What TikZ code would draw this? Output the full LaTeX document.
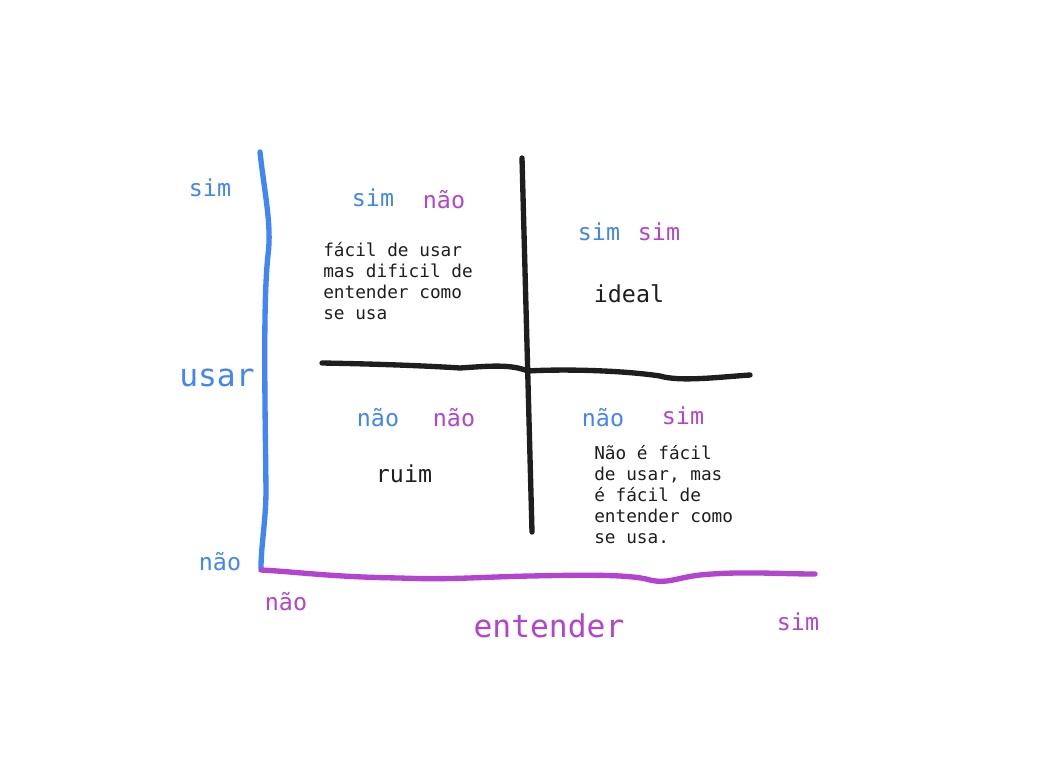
\documentclass[tikz,border=0pt]{standalone}
\usepackage{fontspec}
\setmainfont{DejaVu Sans Mono}
\usetikzlibrary{positioning}
\definecolor{azul}{HTML}{4285F4}
\definecolor{roxo}{HTML}{B244D0}
\definecolor{traco}{HTML}{1E1E1E}
\tikzset{
  eixo/.style={line width=4pt,line cap=round,line join=round},
  rot/.style={inner sep=0pt,font=\fontsize{17.5}{21}\selectfont},
  grande/.style={inner sep=0pt,font=\fontsize{23.5}{28}\selectfont},
  bloco/.style={inner sep=0pt,anchor=north west,align=left,text=traco,
    font=\fontsize{13.3}{15.75}\selectfont}
}
\begin{document}
\begin{tikzpicture}[x=0.75pt,y=-0.75pt]
\useasboundingbox (0,0) rectangle (1057,757);
% eixos
\draw[eixo,azul] (260,152) .. controls (264,190) and (272,225) .. (268,255)
  .. controls (263,300) and (265,400) .. (266,490)
  .. controls (266,520) and (261,545) .. (261,568);
\draw[eixo,roxo] (261,570) .. controls (300,572) and (330,577) .. (400,578)
  .. controls (450,580) and (480,577) .. (530,576)
  .. controls (580,575) and (630,574) .. (650,580)
  .. controls (668,584) and (675,578) .. (700,575)
  .. controls (740,571) and (780,574) .. (815,574);
% divisoes
\draw[eixo,traco] (522,158) -- (532,532);
\draw[eixo,traco] (322,363) .. controls (380,364) and (430,366) .. (460,368)
  .. controls (490,366) and (510,364) .. (528,371)
  .. controls (560,369) and (620,370) .. (660,376)
  .. controls (680,382) and (720,377) .. (750,375);
% rotulos dos eixos
\node[rot,text=azul] (usarSim) at (210,188) {sim};
\node[grande,text=azul] (usar) at (217,378) {usar};
\node[rot,text=azul] (usarNao) at (220,562) {não};
\node[rot,text=roxo] (entNao) at (286,602) {não};
\node[grande,text=roxo] (entender) at (549,626) {entender};
\node[rot,text=roxo] (entSim) at (798,622) {sim};
% quadrantes
\node[rot,text=azul] (q1u) at (373,198) {sim};
\node[rot,text=roxo] (q1e) at (444,200) {não};
\node[bloco] (q1) at (323,242) {fácil de usar\\mas dificil de\\entender como\\se usa};
\node[rot,text=azul] (q2u) at (599,232) {sim};
\node[rot,text=roxo] (q2e) at (659,232) {sim};
\node[rot,text=traco] (ideal) at (629,294) {ideal};
\node[rot,text=azul] (q3u) at (378,418) {não};
\node[rot,text=roxo] (q3e) at (454,418) {não};
\node[rot,text=traco] (ruim) at (404,474) {ruim};
\node[rot,text=azul] (q4u) at (603,418) {não};
\node[rot,text=roxo] (q4e) at (683,416) {sim};
\node[bloco] (q4) at (594,445) {Não é fácil\\de usar, mas\\é fácil de\\entender como\\se usa.};
\end{tikzpicture}
\end{document}
